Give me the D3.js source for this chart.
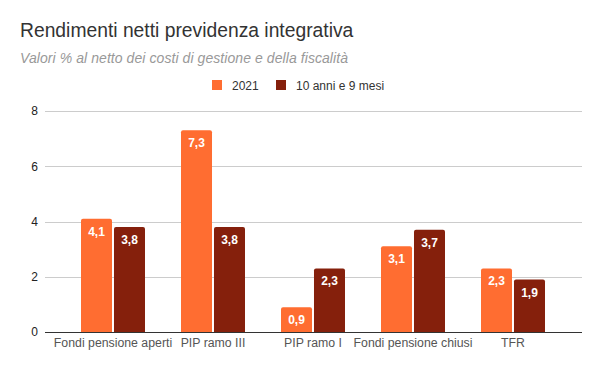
<!DOCTYPE html>
<html>
<head>
<meta charset="utf-8">
<script src="https://cdn.jsdelivr.net/npm/d3@7"></script>
<style>
  body { margin: 0; background: #fff; }
  text { font-family: Arial, "Liberation Sans", sans-serif; }
</style>
</head>
<body>
<div id="chart"></div>
<script>
var categories = ["Fondi pensione aperti", "PIP ramo III", "PIP ramo I", "Fondi pensione chiusi", "TFR"];
var series = ["2021", "10 anni e 9 mesi"];
var values2021 = [4.1, 7.3, 0.9, 3.1, 2.3];
var valuesLong = [3.8, 3.8, 2.3, 3.7, 1.9];
var yTicks = [0, 2, 4, 6, 8];
var colors = ["#ff6d31", "#85200c"];

var width = 600, height = 371;
var font = "Arial, 'Liberation Sans', sans-serif";
var svg = d3.select("#chart").append("svg")
    .attr("width", width)
    .attr("height", height);

// titles
svg.append("text")
    .attr("x", 20).attr("y", 37)
    .style("font-size", "19.3px")
    .style("fill", "#333")
    .text("Rendimenti netti previdenza integrativa");

svg.append("text")
    .attr("x", 20).attr("y", 63)
    .style("font-size", "14px")
    .style("font-style", "italic")
    .style("fill", "#999")
    .attr("textLength", 328)
    .attr("lengthAdjust", "spacing")
    .text("Valori % al netto dei costi di gestione e della fiscalità");

// legend
var legend = svg.append("g").attr("transform", "translate(212,80)");
var legX = [0, 64];
series.forEach(function(s, i) {
    legend.append("rect")
        .attr("x", legX[i]).attr("y", 0)
        .attr("width", 10).attr("height", 10)
        .attr("fill", colors[i]);
    legend.append("text")
        .attr("x", legX[i] + 20).attr("y", 9.5)
        .style("font-size", "12px")
        .style("fill", "#333")
        .text(s);
});

var y = d3.scaleLinear().domain([0, 8]).range([332, 111]);
var x = d3.scaleBand().domain(categories).range([63, 563]);
var x1 = d3.scaleBand().domain(series)
    .range([x.bandwidth() * 0.18, x.bandwidth() * 0.82])
    .paddingInner(0.06);

// gridlines
svg.append("g").selectAll("line")
    .data(yTicks.filter(function(d) { return d > 0; }))
    .enter().append("line")
    .attr("x1", 45).attr("x2", 582)
    .attr("y1", function(d) { return Math.round(y(d)) + 0.5; })
    .attr("y2", function(d) { return Math.round(y(d)) + 0.5; })
    .attr("stroke", "#ccc");

// y axis labels
var yAxis = d3.axisLeft(y).tickValues(yTicks).tickSize(0).tickPadding(0);
svg.append("g")
    .attr("transform", "translate(38,0)")
    .call(yAxis)
    .call(function(g) { g.select(".domain").remove(); })
    .selectAll("text")
    .style("font-size", "12px")
    .style("fill", "#222")
    .style("font-family", font);

var rows = categories.map(function(c, i) {
    return { cat: c, vals: [values2021[i], valuesLong[i]] };
});

var groups = svg.selectAll(".grp")
    .data(rows)
    .enter().append("g")
    .attr("class", "grp")
    .attr("transform", function(d) { return "translate(" + x(d.cat) + ",0)"; });

function barPath(x0, w, top, bottom, r) {
    return "M" + x0 + "," + bottom +
        "V" + (top + r) +
        "Q" + x0 + "," + top + " " + (x0 + r) + "," + top +
        "H" + (x0 + w - r) +
        "Q" + (x0 + w) + "," + top + " " + (x0 + w) + "," + (top + r) +
        "V" + bottom + "Z";
}

groups.selectAll("path")
    .data(function(d) { return d.vals.map(function(v, i) { return { v: v, s: series[i], i: i }; }); })
    .enter().append("path")
    .attr("d", function(d) {
        return barPath(x1(d.s), x1.bandwidth(), y(d.v), y(0), 2);
    })
    .attr("fill", function(d) { return colors[d.i]; });

groups.selectAll(".lbl")
    .data(function(d) { return d.vals.map(function(v, i) { return { v: v, s: series[i], i: i }; }); })
    .enter().append("text")
    .attr("class", "lbl")
    .attr("x", function(d) { return x1(d.s) + x1.bandwidth() / 2; })
    .attr("y", function(d) { return y(d.v) + 17; })
    .attr("text-anchor", "middle")
    .style("font-size", "12px")
    .style("font-weight", "bold")
    .style("fill", "#fff")
    .text(function(d) { return d3.format(".1f")(d.v).replace(".", ","); });

// baseline
svg.append("line")
    .attr("x1", 45).attr("x2", 582)
    .attr("y1", y(0) + 0.5).attr("y2", y(0) + 0.5)
    .attr("stroke", "#333");

// x axis labels
var xAxis = d3.axisBottom(x).tickSize(0).tickPadding(0);
svg.append("g")
    .attr("transform", "translate(0," + (y(0) + 6) + ")")
    .call(xAxis)
    .call(function(g) { g.select(".domain").remove(); })
    .selectAll("text")
    .attr("dy", "0.71em")
    .style("font-size", "12.3px")
    .style("fill", "#555")
    .style("font-family", font);
</script>
</body>
</html>
